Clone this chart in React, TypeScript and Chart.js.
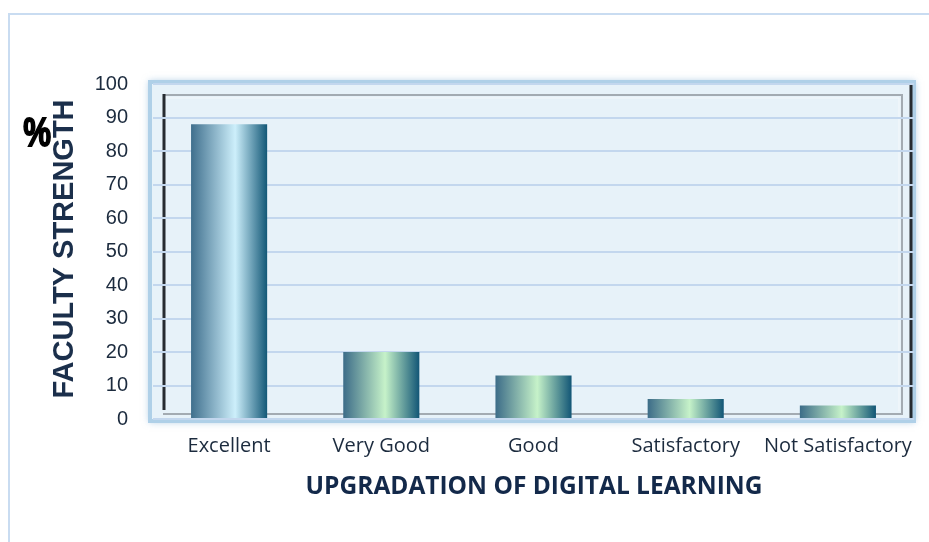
import React, { useEffect, useRef } from "react";
import { Chart, registerables } from "chart.js";

Chart.register(...registerables);

const categories = ["Excellent", "Very Good", "Good", "Satisfactory", "Not Satisfactory"];
const values = [88, 20, 13, 6, 4];
const yTicks = [0, 10, 20, 30, 40, 50, 60, 70, 80, 90, 100];
const xTitle = "UPGRADATION OF DIGITAL LEARNING";
const yTitle = "FACULTY STRENGTH";
const yUnit = "%";

const TEXT = "#1c2b3e";

function barGradient(ctx: any) {
  const chart = ctx.chart;
  const xs = chart.scales && chart.scales.x;
  if (!xs || ctx.dataIndex === undefined) return "#4a7a96";
  const c = xs.getPixelForValue(ctx.dataIndex);
  const w = xs.width / categories.length / 2;
  if (!isFinite(c) || !isFinite(w) || w <= 0) return "#4a7a96";
  const g = chart.ctx.createLinearGradient(c - w / 2, 0, c + w / 2, 0);
  if (ctx.dataIndex === 0) {
    g.addColorStop(0, "#3f6f8d");
    g.addColorStop(0.58, "#cdeffb");
    g.addColorStop(1, "#135877");
  } else {
    g.addColorStop(0, "#3c6c88");
    g.addColorStop(0.55, "#c6f2c9");
    g.addColorStop(1, "#125676");
  }
  return g;
}

const framePlugin = {
  id: "frame",
  beforeDraw(chart: any) {
    const c = chart.ctx;
    c.save();
    // outer chart border (top & left)
    c.strokeStyle = "#c9dcf1";
    c.lineWidth = 2;
    c.beginPath();
    c.moveTo(9, 542);
    c.lineTo(9, 14);
    c.lineTo(929, 14);
    c.stroke();
    // panel
    c.shadowColor = "rgba(120,170,210,0.6)";
    c.shadowBlur = 7;
    c.fillStyle = "#e7f2f9";
    c.fillRect(149, 81, 766, 341);
    c.shadowBlur = 0;
    c.strokeStyle = "#afd0e8";
    c.lineWidth = 4;
    c.strokeRect(150, 82, 764, 339);
    // inner gray frame
    c.strokeStyle = "#a3abb2";
    c.lineWidth = 2;
    c.beginPath();
    c.moveTo(163, 95);
    c.lineTo(902, 95);
    c.lineTo(902, 414);
    c.lineTo(163, 414);
    c.stroke();
    c.strokeStyle = "#f4f8fb";
    c.lineWidth = 1;
    c.beginPath();
    c.moveTo(165, 98);
    c.lineTo(899, 98);
    c.lineTo(899, 411);
    c.stroke();
    // dark edges
    c.strokeStyle = "#262b31";
    c.lineWidth = 3;
    c.beginPath();
    c.moveTo(164, 94);
    c.lineTo(164, 410);
    c.moveTo(911, 84);
    c.lineTo(911, 420);
    c.stroke();
    c.restore();
  },
  afterDraw(chart: any) {
    const c = chart.ctx;
    c.save();
    c.fillStyle = "#13294a";
    c.textAlign = "center";
    c.textBaseline = "middle";
    c.font = "bold 24.5px 'Open Sans'";
    c.fillText(xTitle, 534, 487);
    c.translate(65, 249);
    c.rotate(-Math.PI / 2);
    c.fillStyle = "#1b2f4b";
    c.font = "bold 29px 'Liberation Sans'";
    c.fillText(yTitle, 0, 0);
    c.restore();
    c.save();
    c.translate(37, 133);
    c.scale(0.78, 1);
    c.fillStyle = "#000000";
    c.strokeStyle = "#000000";
    c.lineWidth = 1.8;
    c.textAlign = "center";
    c.textBaseline = "middle";
    c.font = "bold 40px 'Liberation Sans'";
    c.fillText(yUnit, 0, 2);
    c.strokeText(yUnit, 0, 2);
    c.restore();
  },
};

export default function App() {
  const ref = useRef<HTMLCanvasElement>(null);
  useEffect(() => {
    document.body.style.margin = "0";
    const chart = new Chart(ref.current!, {
      type: "bar",
      data: {
        labels: categories,
        datasets: [
          {
            data: values,
            backgroundColor: barGradient as any,
            borderWidth: 0,
            categoryPercentage: 1,
            barPercentage: 0.5,
          },
        ],
      },
      options: {
        animation: false,
        responsive: false,
        devicePixelRatio: 1,
        layout: { padding: { left: 0, top: 84, right: 15, bottom: 0 } },
        plugins: { legend: { display: false }, tooltip: { enabled: false }, title: { display: false } },
        scales: {
          x: {
            grid: { display: false, drawTicks: false },
            border: { display: false },
            ticks: {
              padding: 15,
              color: TEXT,
              font: { family: "'Open Sans'", size: 20 },
              maxRotation: 0,
              autoSkip: false,
            },
            afterFit: (s: any) => {
              s.height = 123;
            },
          },
          y: {
            min: 0,
            max: 100,
            afterBuildTicks: (s: any) => {
              s.ticks = yTicks.map((v) => ({ value: v }));
            },
            grid: { color: "#c3d7ee", lineWidth: 2, drawTicks: false },
            border: { display: false },
            ticks: {
              padding: 25,
              color: TEXT,
              font: { family: "'Liberation Sans'", size: 20 },
            },
            afterFit: (s: any) => {
              s.width = 153;
            },
          },
        },
      },
      plugins: [framePlugin],
    });
    chart.update();
    return () => chart.destroy();
  }, []);
  return (
    <div style={{ width: 929, height: 542, background: "#ffffff" }}>
      <canvas ref={ref} width={929} height={542} style={{ display: "block" }} />
    </div>
  );
}
